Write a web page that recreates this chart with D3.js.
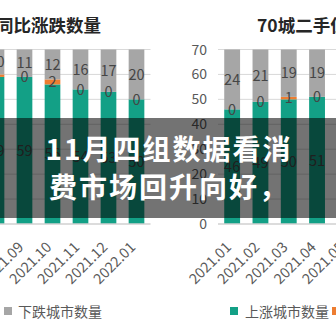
<!DOCTYPE html>
<html>
<head>
<meta charset="utf-8">
<script src="https://cdn.jsdelivr.net/npm/d3@7/dist/d3.min.js"></script>
<style>
  html, body { margin: 0; padding: 0; background: #fff; }
  svg { display: block; }
</style>
</head>
<body>
<svg id="chart" width="336" height="336"></svg>
<script>
// Left panel: monthly counts of cities (out of 70) with rising / flat / falling prices
const leftMonths = ["2021.08", "2021.09", "2021.10", "2021.11", "2021.12", "2022.01"];
const leftUp     = [59, 59, 56, 54, 53, 50];
const leftFlat   = [1, 0, 2, 0, 0, 0];
const leftDown   = [10, 11, 12, 16, 17, 20];

// Right panel: second-hand housing, same breakdown
const rightMonths = ["2021.01", "2021.02", "2021.03", "2021.04", "2021.05"];
const rightUp     = [46, 49, 50, 51];
const rightFlat   = [0, 0, 1, 0];
const rightDown   = [24, 21, 19, 19];

const yTicks = [0, 10, 20, 30, 40, 50, 60, 70];
const titles = ["70城新建商品住宅价格同比涨跌数量", "70城二手住宅价格同比涨跌数量"];
const legendNames = ["上涨城市数量", "持平城市数量", "下跌城市数量"];
const headline = ["11月四组数据看消", "费市场回升向好，"];

const COLORS = { up: "#13a086", flat: "#ed7d31", down: "#a6a6a6" };
const FONT = "'Noto Sans CJK SC', 'Noto Sans', sans-serif";

const svg = d3.select("#chart");
const y = d3.scaleLinear().domain([0, 70]).range([224, 49.5]);

function drawPanel(months, up, flat, down, x0, x1) {
  const g = svg.append("g");
  const x = d3.scaleBand().domain(months).range([x0, x1])
    .paddingInner(0.44).paddingOuter(0.22);

  // gridlines
  g.selectAll("line.grid").data(yTicks.filter(t => t > 0)).join("line")
    .attr("x1", x0).attr("x2", x1)
    .attr("y1", d => y(d)).attr("y2", d => y(d))
    .attr("stroke", "#d9d9d9").attr("stroke-width", 1);

  const rows = up.map((u, i) => ({ month: months[i], up: u, flat: flat[i], down: down[i] }));
  const keys = ["up", "flat", "down"];
  const series = d3.stack().keys(keys)(rows);

  series.forEach(s => {
    g.append("g").selectAll("rect").data(s).join("rect")
      .attr("x", d => x(d.data.month))
      .attr("width", x.bandwidth())
      .attr("y", d => y(d[1]))
      .attr("height", d => y(d[0]) - y(d[1]))
      .attr("fill", COLORS[s.key]);
  });

  // value labels centred in each segment
  series.forEach(s => {
    g.append("g").selectAll("text").data(s).join("text")
      .attr("x", d => x(d.data.month) + x.bandwidth() / 2)
      .attr("y", d => (y(d[0]) + y(d[1])) / 2)
      .attr("dy", "0.36em")
      .attr("text-anchor", "middle")
      .attr("font-family", FONT)
      .attr("font-size", 14.5)
      .attr("fill", "#454545")
      .text(d => d.data[s.key]);
  });

  // baseline
  g.append("line").attr("x1", x0).attr("x2", x1)
    .attr("y1", y(0)).attr("y2", y(0))
    .attr("stroke", "#d0d0d0").attr("stroke-width", 1.5);

  // rotated month labels
  g.selectAll("text.tick").data(months).join("text")
    .attr("class", "tick")
    .attr("transform", d => `translate(${x(d) + x.bandwidth() / 2},248) rotate(-45)`)
    .attr("text-anchor", "end")
    .attr("font-family", FONT)
    .attr("font-size", 14.5)
    .attr("fill", "#595959")
    .text(d => d);

  return { g, x };
}

// left panel
drawPanel(leftMonths, leftUp, leftFlat, leftDown, -17.5, 150.5);
svg.append("text").attr("x", 101).attr("y", 32)
  .attr("text-anchor", "end").attr("font-family", FONT)
  .attr("font-weight", 700).attr("font-size", 17.5).attr("fill", "#262626")
  .text(titles[0]);

// left legend: only the "falling" swatch fits
svg.append("rect").attr("x", 4).attr("y", 307).attr("width", 8).attr("height", 8)
  .attr("fill", COLORS.down);
svg.append("text").attr("x", 18).attr("y", 312).attr("dy", "0.36em")
  .attr("font-family", FONT).attr("font-size", 14).attr("fill", "#595959")
  .text(legendNames[2]);

// right panel
drawPanel(rightMonths, rightUp, rightFlat, rightDown, 218, 359.5);
svg.append("g").selectAll("text").data(yTicks).join("text")
  .attr("x", 207).attr("y", d => y(d)).attr("dy", "0.36em")
  .attr("text-anchor", "end").attr("font-family", FONT)
  .attr("font-size", 14).attr("fill", "#595959")
  .text(d => d);
svg.append("text").attr("x", 257).attr("y", 32)
  .attr("font-family", FONT).attr("font-weight", 700)
  .attr("font-size", 17.5).attr("fill", "#262626")
  .text(titles[1]);

// right legend
svg.append("rect").attr("x", 230).attr("y", 307).attr("width", 8).attr("height", 8)
  .attr("fill", COLORS.up);
svg.append("text").attr("x", 245).attr("y", 312).attr("dy", "0.36em")
  .attr("font-family", FONT).attr("font-size", 14).attr("fill", "#595959")
  .text(legendNames[0]);
svg.append("rect").attr("x", 332).attr("y", 307).attr("width", 8).attr("height", 8)
  .attr("fill", COLORS.flat);
svg.append("text").attr("x", 347).attr("y", 312).attr("dy", "0.36em")
  .attr("font-family", FONT).attr("font-size", 14).attr("fill", "#595959")
  .text(legendNames[1]);

// headline band across the middle
svg.append("rect").attr("x", 0).attr("y", 118).attr("width", 336).attr("height", 100)
  .attr("fill", "rgba(0,0,0,0.55)");
svg.append("g").selectAll("text").data(headline).join("text")
  .attr("x", 169).attr("y", (d, i) => 150 + i * 38).attr("dy", "0.36em")
  .attr("text-anchor", "middle")
  .attr("font-family", FONT).attr("font-weight", 700)
  .attr("font-size", 28).attr("letter-spacing", 2)
  .attr("fill", "#ffffff")
  .text(d => d);
</script>
</body>
</html>
